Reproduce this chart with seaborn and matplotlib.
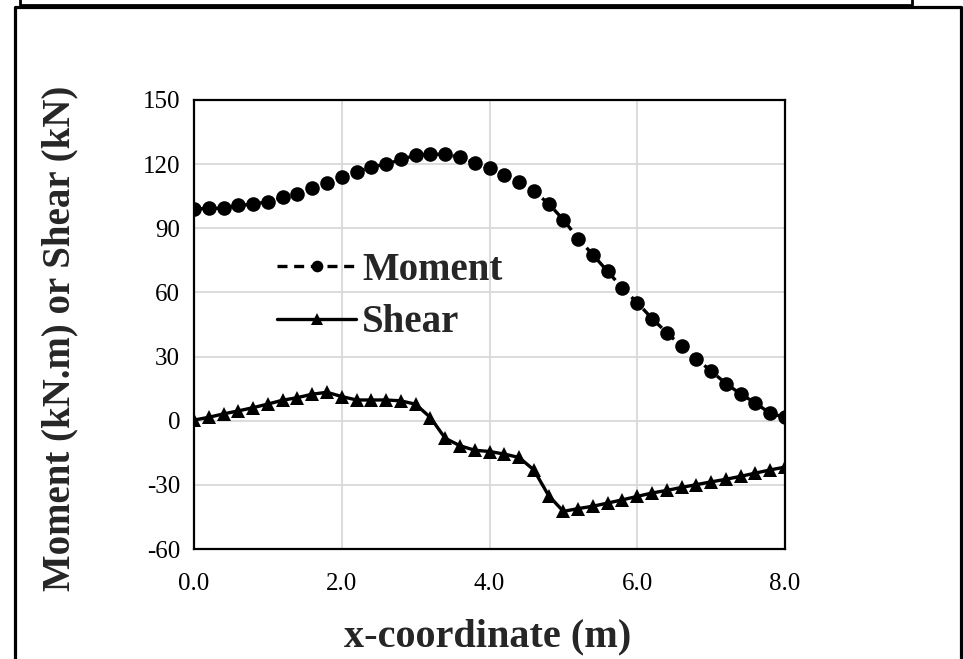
import matplotlib
matplotlib.use("Agg")
import matplotlib.pyplot as plt
import seaborn as sns
from matplotlib.lines import Line2D

# ---- data ----
x_m = [0.0, 0.2, 0.4, 0.6, 0.8, 1.0, 1.2, 1.4, 1.6, 1.8, 2.0, 2.2, 2.4, 2.6, 2.8,
       3.0, 3.2, 3.4, 3.6, 3.8, 4.0, 4.2, 4.4, 4.6, 4.8, 5.0, 5.2, 5.4, 5.6, 5.8,
       6.0, 6.2, 6.4, 6.6, 6.8, 7.0, 7.2, 7.4, 7.6, 7.8, 8.0]
moment = [98.9, 99.4, 99.3, 100.8, 101.2, 102.5, 104.4, 106.2, 108.7, 111.4,
          114.0, 116.3, 118.7, 119.9, 122.2, 124.1, 124.6, 124.6, 123.2, 120.5,
          118.0, 115.0, 111.5, 107.3, 101.5, 94.0, 85.2, 77.6, 69.8, 62.0,
          55.2, 47.8, 41.2, 34.8, 29.0, 23.2, 17.4, 12.5, 8.3, 3.4, 1.7]
shear = [0.3, 1.6, 3.2, 4.6, 6.1, 7.8, 9.6, 10.8, 12.4, 13.3,
         11.3, 9.7, 9.7, 9.7, 9.3, 7.7, 1.5, -8.2, -11.7, -13.8,
         -14.4, -15.6, -17.2, -23.0, -35.0, -42.4, -41.1, -40.0, -38.5, -37.0,
         -35.4, -33.8, -32.6, -31.2, -29.9, -28.6, -27.4, -26.0, -24.5, -23.0, -21.7]
x_ticks = [0.0, 2.0, 4.0, 6.0, 8.0]
x_ticklabels = ["0.0", "2.0", "4.0", "6.0", "8.0"]
y_ticks = [-60, -30, 0, 30, 60, 90, 120, 150]
series_names = ["Moment", "Shear"]
x_title = "x-coordinate (m)"
y_title = "Moment (kN.m) or Shear (kN)"

# ---- style ----
sns.set_style("white")
plt.rcParams["font.family"] = ["Liberation Serif", "DejaVu Serif"]
plt.rcParams["axes.unicode_minus"] = False

W, H = 963, 659
fig = plt.figure(figsize=(W / 100, H / 100), dpi=100)
fig.patch.set_facecolor("white")
ax = fig.add_axes([194 / W, 1 - 549 / H, (785 - 194) / W, (549 - 100) / H])
ax.set_facecolor("white")

sns.lineplot(x=x_m, y=moment, ax=ax, color="black", lw=2.4,
             marker="o", markersize=10.5, mec="black", mfc="black", mew=0,
             label=series_names[0])
ax.lines[-1].set_dashes((3.0, 2.0))
sns.lineplot(x=x_m, y=shear, ax=ax, color="black", lw=2.4,
             marker="^", markersize=10, mec="black", mfc="black", mew=0,
             label=series_names[1])

ax.set_xlim(0, 8)
ax.set_ylim(-60, 150)
ax.set_xticks(x_ticks)
ax.set_xticklabels(x_ticklabels)
ax.set_yticks(y_ticks)
ax.tick_params(axis="both", length=0, labelsize=18, colors="black")
ax.tick_params(axis="x", pad=17)
ax.tick_params(axis="y", pad=10)
ax.grid(True, color="#d9d9d9", lw=1.3)
ax.set_axisbelow(True)
for sp in ax.spines.values():
    sp.set_visible(True)
    sp.set_color("black")
    sp.set_linewidth(1.6)

ax.set_xlabel(x_title, fontsize=29, fontweight="bold", va="center")
ax.xaxis.set_label_coords(0.497, -0.196)
ax.set_ylabel(y_title, fontsize=28, fontweight="bold", va="center")
ax.yaxis.set_label_coords(-0.227, 0.470)

leg = ax.legend(loc="upper left", bbox_to_anchor=(0.14, 0.662), frameon=False,
                prop={"weight": "bold", "size": 28},
                handlelength=2.05, handletextpad=0.15, labelspacing=0.4,
                borderpad=0, borderaxespad=0, markerscale=0.8)

# ---- page frame decorations ----
def fline(xs, ys, lw):
    fig.add_artist(Line2D([v / W for v in xs], [1 - v / H for v in ys],
                          transform=fig.transFigure, color="black", lw=lw,
                          solid_capstyle="projecting"))

fline([15, 15, 961, 961], [H + 5, 7, 7, H + 5], 2.3)
fline([20, 20, 912, 912], [-5, 4.5, 4.5, -5], 2.0)

fig.savefig("out.png", dpi=100)
